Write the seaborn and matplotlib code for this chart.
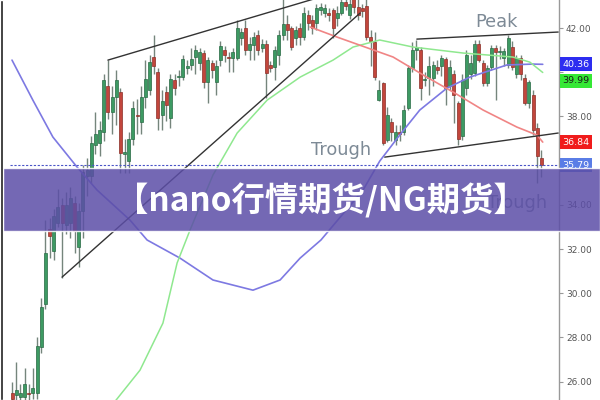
import numpy as np
import seaborn as sns
import matplotlib.pyplot as plt
from matplotlib.patches import Rectangle
from matplotlib.transforms import blended_transform_factory

# candle data (daily OHLC)
opens = [25.5, 25.4, 25.3, 25.3, 25.5, 25.5, 25.5, 27.55, 29.5, 32.9,
         31.9, 33.2, 34.0, 33.1, 33.2, 34.1, 32.1, 33.7, 35.3, 35.3,
         36.7, 36.8, 37.3, 39.4, 38.2, 38.9, 39.1, 36.3, 36.0, 37.0,
         38.05, 37.75, 38.9, 39.2, 40.7, 40.0, 38.05, 39.1, 37.95, 39.65,
         39.8, 39.8, 40.2, 40.35, 40.7, 40.4, 40.85, 39.55, 40.4, 39.55,
         40.55, 41.0, 40.7, 40.65, 40.65, 41.55, 42.0, 41.0, 41.25, 41.7,
         41.1, 41.3, 40.35, 40.25, 40.8, 41.7, 42.2, 42.0, 41.55, 42.0,
         41.6, 42.6, 42.35, 42.25, 42.8, 42.7, 42.7, 42.8, 42.45, 42.7,
         43.2, 42.6, 43.3, 42.95, 42.9, 43.0, 41.6, 41.35, 38.75, 39.5,
         36.95, 37.75, 36.95, 37.3, 37.3, 38.4, 40.2, 41.0, 41.0, 39.65,
         39.75, 39.75, 40.25, 40.3, 40.6, 39.4, 39.9, 38.6, 37.1, 39.3,
         39.9, 39.95, 41.3, 40.4, 39.5, 40.25, 41.1, 40.9, 40.65, 40.33,
         41.15, 39.9, 40.65, 39.75, 38.6, 38.95, 37.5, 36.1]
closes = [25.2, 25.6, 25.5, 25.9, 25.45, 25.7, 27.6, 29.4, 31.8, 32.6,
          33.5, 33.9, 33.2, 34.0, 34.3, 32.8, 33.7, 35.5, 35.6, 36.8,
          37.2, 37.4, 39.65, 38.2, 38.9, 39.65, 36.35, 36.4, 37.0, 38.4,
          38.0, 38.9, 39.7, 40.45, 40.3, 37.95, 38.7, 38.5, 39.7, 39.3,
          39.85, 40.6, 40.3, 40.6, 41.0, 40.9, 39.55, 40.55, 40.1, 40.3,
          41.2, 40.8, 40.65, 40.9, 42.0, 41.8, 41.0, 41.3, 41.6, 41.0,
          41.3, 39.95, 40.2, 41.0, 41.7, 42.2, 41.9, 41.15, 41.9, 41.6,
          42.7, 42.25, 42.0, 42.9, 42.95, 42.9, 42.6, 42.0, 42.7, 43.2,
          43.0, 43.1, 42.95, 42.6, 42.75, 41.6, 41.4, 39.8, 39.2, 36.8,
          38.05, 37.3, 37.3, 37.2, 38.3, 40.2, 41.0, 41.15, 39.3, 39.7,
          40.3, 40.35, 40.1, 40.65, 39.3, 40.25, 38.97, 37.0, 39.65, 40.8,
          40.4, 41.3, 40.55, 39.5, 40.2, 41.1, 40.9, 40.95, 40.95, 41.55,
          40.25, 40.65, 39.9, 38.6, 39.55, 37.4, 36.2, 35.79]
highs = [26.0, 26.9, 25.9, 26.6, 25.9, 26.6, 28.0, 29.8, 33.3, 33.4,
         33.8, 34.7, 34.3, 34.6, 34.8, 34.4, 34.1, 35.8, 36.1, 37.1,
         38.2, 37.8, 39.9, 40.55, 39.4, 40.1, 39.3, 37.0, 37.3, 38.7,
         38.8, 39.4, 40.55, 40.8, 41.7, 40.2, 39.2, 39.4, 39.9, 39.9,
         40.1, 40.8, 40.55, 41.1, 41.25, 41.1, 41.0, 40.7, 40.55, 40.55,
         41.4, 41.2, 40.9, 41.1, 42.35, 42.0, 42.35, 41.6, 41.8, 41.9,
         41.5, 41.45, 40.5, 41.2, 41.9, 43.3, 42.6, 42.1, 42.1, 42.25,
         42.95, 42.8, 42.6, 43.1, 43.15, 43.1, 42.9, 42.9, 43.0, 43.5,
         43.5, 43.4, 43.5, 43.3, 43.1, 43.3, 41.9, 41.8, 39.65, 39.55,
         38.45, 37.95, 37.6, 37.6, 38.5, 40.35, 41.35, 41.45, 41.15, 40.0,
         40.75, 40.5, 40.55, 40.8, 40.7, 40.55, 40.1, 38.7, 39.9, 41.0,
         40.8, 41.45, 41.45, 40.55, 40.35, 41.25, 41.25, 41.2, 41.1, 41.7,
         41.4, 40.8, 40.8, 39.9, 39.65, 39.2, 37.7, 36.5]
lows = [25.0, 25.1, 25.0, 25.1, 25.1, 25.2, 25.2, 27.3, 29.3, 31.6,
        31.5, 33.0, 30.7, 32.7, 32.5, 31.8, 31.2, 32.5, 34.4, 35.0,
        36.3, 36.2, 36.9, 37.9, 37.2, 37.6, 35.45, 35.45, 35.45, 36.7,
        37.2, 37.2, 38.4, 38.95, 39.9, 37.4, 37.4, 37.8, 37.5, 38.95,
        39.4, 39.65, 39.9, 40.1, 39.9, 40.1, 39.3, 38.6, 39.75, 38.95,
        40.3, 40.45, 40.0, 40.0, 40.55, 41.25, 40.8, 40.55, 40.55, 40.8,
        40.9, 38.85, 40.0, 39.65, 40.35, 41.45, 41.45, 41.0, 41.25, 41.25,
        41.45, 41.9, 41.75, 41.9, 42.6, 42.5, 42.3, 41.55, 42.1, 42.6,
        42.8, 42.4, 42.7, 42.35, 42.5, 41.45, 40.3, 39.65, 38.7, 36.7,
        36.85, 36.9, 36.7, 36.9, 37.15, 38.3, 40.0, 40.55, 38.75, 39.4,
        38.95, 39.4, 39.9, 39.85, 38.5, 39.2, 37.7, 36.7, 36.95, 38.97,
        39.7, 39.85, 40.45, 39.4, 39.4, 40.1, 38.75, 40.6, 40.3, 40.2,
        40.1, 39.75, 39.65, 38.5, 38.4, 37.15, 35.0, 35.25]

# moving averages, read at a few candle positions
ma_blue_x = [0, 5, 9.8, 15.6, 20.4, 28.3, 32.4, 40.3, 48.2, 57.8, 64.3, 69.1,
             74.1, 84.2, 88.2, 93, 97.8, 104.3, 109.8, 118.7, 124.9, 127.3]
ma_blue_y = [40.55, 38.74, 37.07, 35.71, 34.67, 33.31, 32.41, 31.59, 30.60, 30.14,
             30.60, 31.59, 32.41, 34.67, 35.98, 37.16, 38.29, 39.28, 39.78, 40.33,
             40.37, 40.36]
ma_green_x = [24, 30.7, 36.2, 39.6, 42.7, 48.2, 54, 61.2, 69.1, 77, 81.8, 88.2,
              96.2, 108.2, 120.1, 124.2, 127.3]
ma_green_y = [24.94, 26.52, 28.65, 31.37, 32.86, 35.35, 37.25, 38.74, 39.78, 40.55,
              41.14, 41.46, 41.14, 40.87, 40.69, 40.46, 39.99]
ma_red_x = [71.5, 78, 84.7, 91.4, 99.5, 106.2, 113, 121.1, 125.9, 127.3]
ma_red_y = [42.05, 41.59, 41.14, 40.69, 39.78, 39.06, 38.29, 37.52, 37.16, 36.84]

# trend lines (start / end as candle index, price)
trend_lines = [((23, 40.55), (73, 43.35)),
               ((12, 30.73), (83.5, 42.68)),
               ((97.1, 41.5), (131, 41.82)),
               ((89.4, 36.16), (131, 37.25))]

price_ticks = [26, 28, 30, 32, 34, 36, 38, 40, 42]
tick_labels = ['26.00', '28.00', '30.00', '32.00', '34.00', '', '38.00', '', '42.00']

sns.set_theme(style='white')
plt.rcParams['font.family'] = ['DejaVu Sans']

fig = plt.figure(figsize=(6, 4), dpi=100)
ax = fig.add_axes([0, 0, 559 / 600, 1])

# candles
idx = np.arange(len(opens))
for i in idx:
    up = closes[i] >= opens[i]
    body = '#3d9a63' if up else '#c2463c'
    edge = '#2a6b45' if up else '#8c2f28'
    ax.vlines(i, lows[i], highs[i], color='#75857c', lw=1, zorder=2)
    ax.bar(i, closes[i] - opens[i], bottom=opens[i], width=0.72,
           color=body, edgecolor=edge, lw=0.5, zorder=3)

# moving averages
sns.lineplot(x=ma_blue_x, y=ma_blue_y, ax=ax, color='#7d79e2', lw=1.2, sort=False, zorder=4)
sns.lineplot(x=ma_green_x, y=ma_green_y, ax=ax, color='#8fe88f', lw=1.1, sort=False, zorder=4)
sns.lineplot(x=ma_red_x, y=ma_red_y, ax=ax, color='#f08585', lw=1.2, sort=False, zorder=4)

for (x0, y0), (x1, y1) in trend_lines:
    ax.plot([x0, x1], [y0, y1], color='#333333', lw=1, zorder=5)

# last price dashed line
ax.hlines(closes[-1], -0.5, 131, colors='#4a55c8', lw=0.8, linestyles=(0, (2, 1.5)), zorder=5)

# pattern labels
lab = dict(color='#7d8a96', fontsize=12.8, ha='center', va='center', zorder=6)
ax.text(78.9, 36.48, 'Trough', **lab)
ax.text(116.1, 42.27, 'Peak', **lab)
ax.text(121.1, 34.08, 'Trough', **lab)

ax.set_xlim(-2.88, 131.2)
ax.set_ylim(25.17, 43.27)
ax.set_xticks([])
ax.yaxis.tick_right()
ax.set_yticks(price_ticks)
ax.set_yticklabels(tick_labels)
ax.tick_params(axis='y', right=True, length=3, width=0.8, color='#999999',
               labelsize=6.5, labelcolor='#555555', pad=2)
for side in ['top', 'bottom', 'left']:
    ax.spines[side].set_visible(False)
ax.spines['right'].set_color('#999999')
ax.spines['right'].set_linewidth(1)

# price boxes on the axis
trans = blended_transform_factory(ax.transAxes, ax.transData)
boxes = [(40.36, '#2d2df0', 'white', 0),
         (39.99, '#35e835', '#1a1a1a', -6),
         (36.84, '#f01c1c', 'white', 0),
         (closes[-1], '#5a7de6', 'white', 0)]
for val, fc, tc, dy in boxes:
    ax.annotate(f'{val:.2f}', xy=(1, val), xycoords=trans, xytext=(2.5, dy),
                textcoords='offset points', ha='left', va='center', fontsize=6.8,
                color=tc, annotation_clip=False, zorder=7,
                bbox=dict(boxstyle='square,pad=0.25', fc=fc, ec='none'))

# banner
fig.patches.append(Rectangle((0, 1 - 231 / 400), 1, 63 / 400, transform=fig.transFigure,
                             fc='#5c4ea7', alpha=0.85, zorder=10))
fig.text(0.535, 1 - 201 / 400, '【nano行情期货/NG期货】', color='white', fontsize=24,
         fontweight='bold', family=['Noto Sans CJK SC', 'DejaVu Sans'],
         ha='center', va='center', zorder=11)
fig.patches.append(Rectangle((0, 0), 3 / 600, 1, transform=fig.transFigure,
                             fc='#1c1c1c', zorder=12))

fig.savefig('out.png', dpi=100, facecolor='white')
